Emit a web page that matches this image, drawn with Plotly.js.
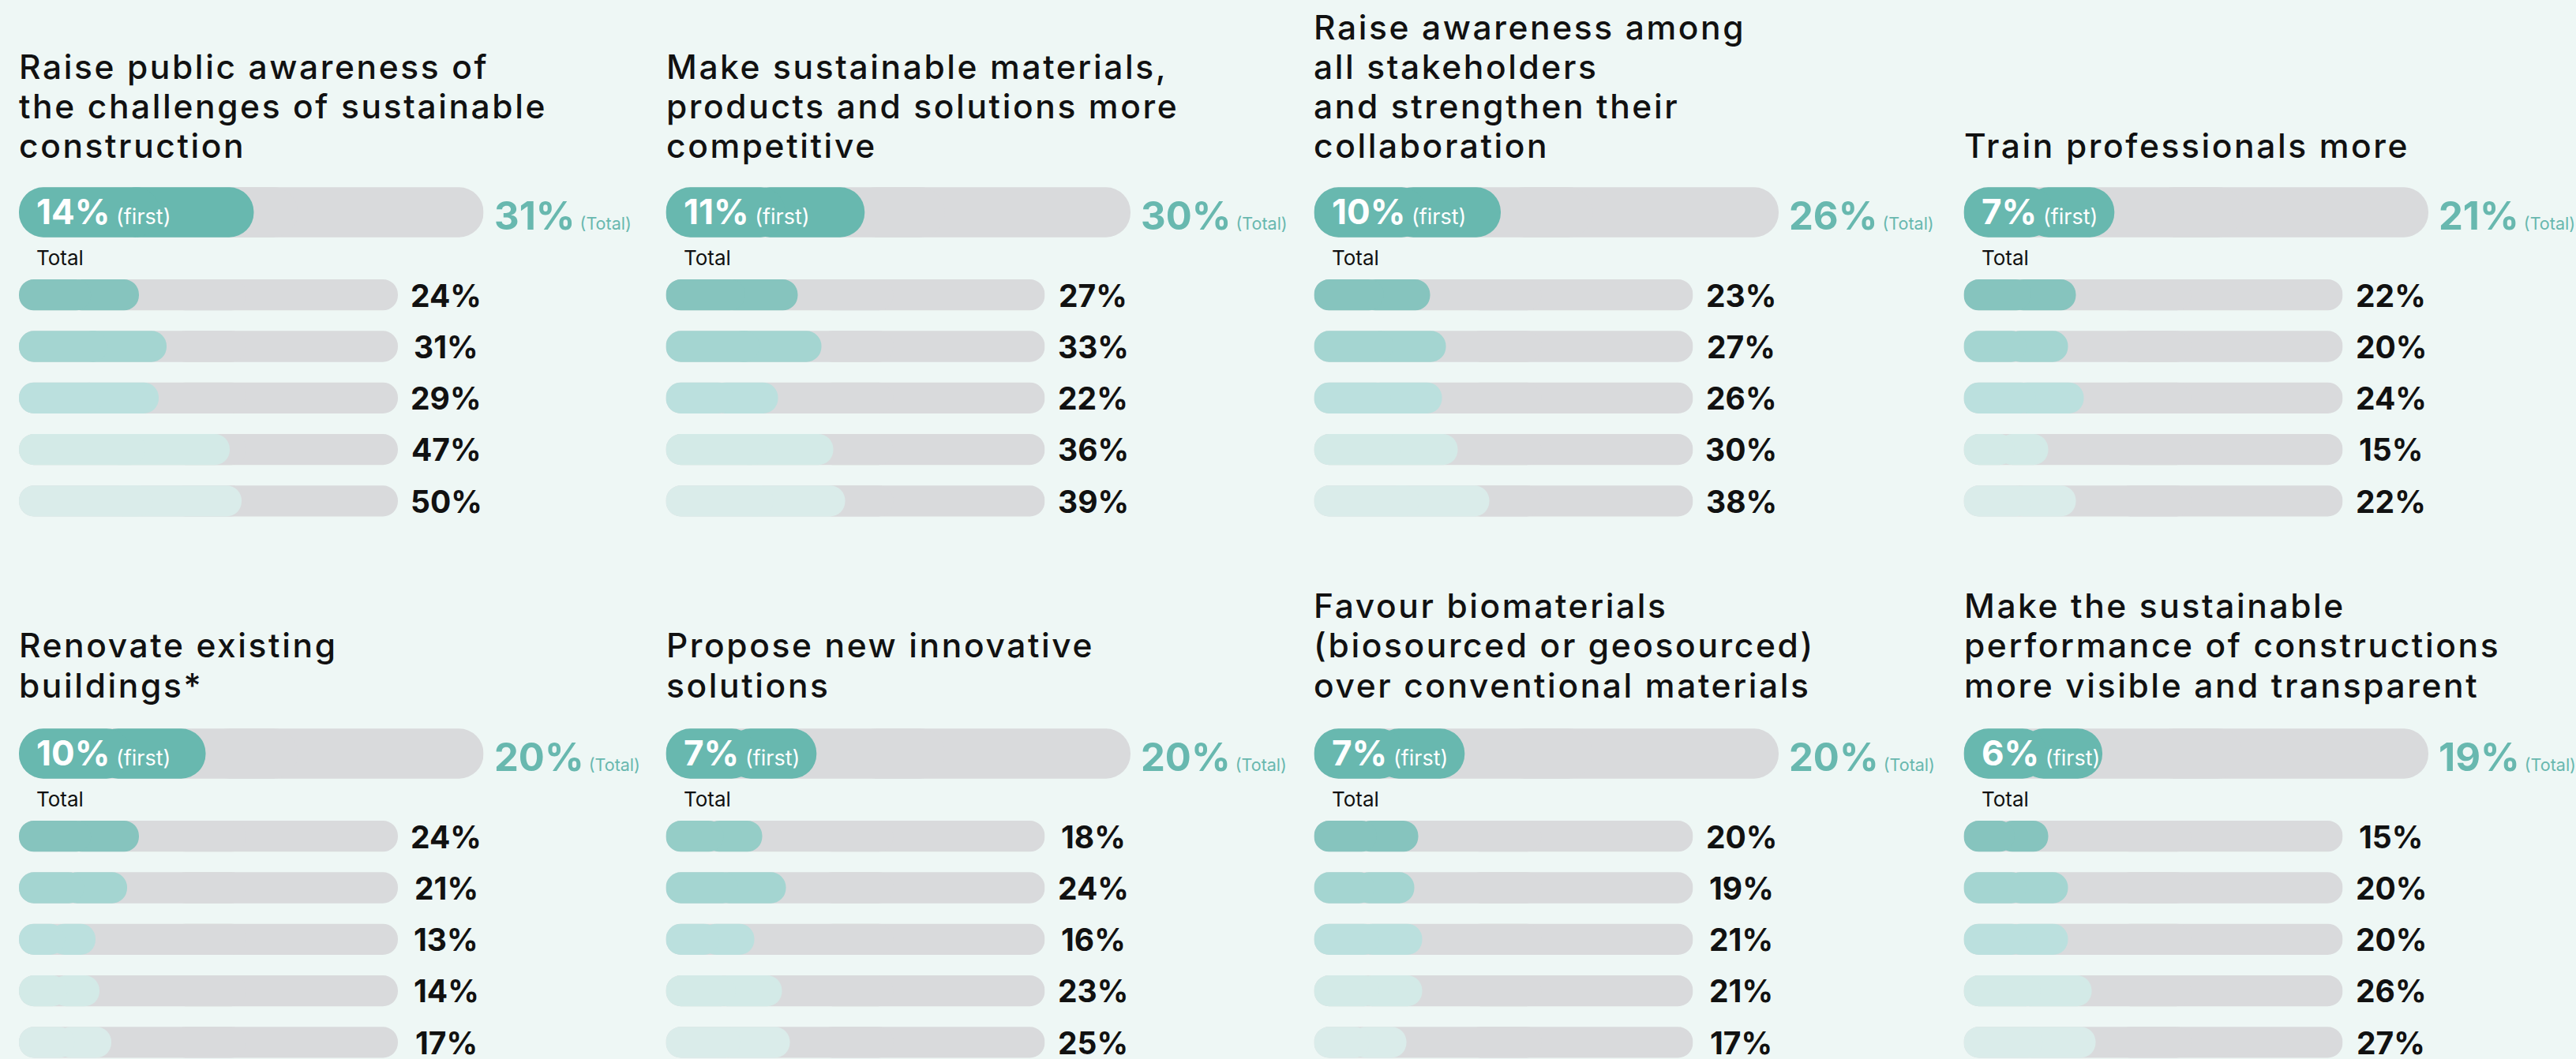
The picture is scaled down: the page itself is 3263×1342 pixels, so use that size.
<!DOCTYPE html>
<html>
<head>
<meta charset="utf-8">
<script src="https://cdn.plot.ly/plotly-3.0.1.min.js"></script>
<style>
html,body{margin:0;padding:0;background:#EEF7F5;}
#chart{width:3263px;height:1342px;}
</style>
</head>
<body>
<div id="chart"></div>
<script>
// ---------------- DATA ----------------
const panelTitles = [
  ["Raise public awareness of", "the challenges of sustainable", "construction"],
  ["Make sustainable materials,", "products and solutions more", "competitive"],
  ["Raise awareness among", "all stakeholders", "and strengthen their", "collaboration"],
  ["Train professionals more"],
  ["Renovate existing", "buildings*"],
  ["Propose new innovative", "solutions"],
  ["Favour biomaterials", "(biosourced or geosourced)", "over conventional materials"],
  ["Make the sustainable", "performance of constructions", "more visible and transparent"]
];
const firstChoice = [14, 11, 10, 7, 10, 7, 7, 6];
const totalChoice = [31, 30, 26, 21, 20, 20, 20, 19];
const groupRows = [0, 1, 2, 3, 4];
const totalsPublicAwareness   = [24, 31, 29, 47, 50];
const totalsCompetitive       = [27, 33, 22, 36, 39];
const totalsStakeholders      = [23, 27, 26, 30, 38];
const totalsTrainPros         = [22, 20, 24, 15, 22];
const totalsRenovate          = [24, 21, 13, 14, 17];
const totalsInnovative        = [18, 24, 16, 23, 25];
const totalsBiomaterials      = [20, 19, 21, 21, 17];
const totalsVisibility        = [15, 20, 20, 26, 27];
const groupTotals = [totalsPublicAwareness, totalsCompetitive, totalsStakeholders, totalsTrainPros,
                     totalsRenovate, totalsInnovative, totalsBiomaterials, totalsVisibility];

// ---------------- STYLE / LAYOUT ----------------
const W = 3263, H = 1342;
const FONT = 'Inter, "Noto Sans", sans-serif';
const BG = '#EEF7F5', GREY = '#D9DADC', TEAL = '#68B8AF', INK = '#111111';
const rowFills = ['#86C4BE', '#A4D5D1', '#BBE0DE', '#D3EAE7', '#DAECEA'];
const firstRowFillOverride = {5: '#95CDC7'};
const colLeft = [24, 843.5, 1664.5, 2487.5];
const rowShift = 686, titleRowShift = 683;
const bigW = 588.5, smallW = 480;
const bigRange = [-5.52, 33.1], smallRange = [-6.4, 89.6];
const bigCenter = 269, bigBand = 100, bigBarW = 0.634;
const smallCenter0 = 373.7, smallStep = 65.3, smallBarW = 0.602, smallEnd = 4.32;
const titleBase = 200.3, titlePitch = 50.3, titleSize = 42.5;
const ASC = 0.36; // middle of text box above baseline (em)

const traces = [];
const layout = {
  width: W, height: H,
  margin: {l: 0, r: 0, t: 0, b: 0},
  paper_bgcolor: BG, plot_bgcolor: 'rgba(0,0,0,0)',
  barmode: 'overlay', showlegend: false,
  font: {family: FONT, color: INK},
  annotations: []
};

const py = px => 1 - px / H;   // pixel (from top) -> paper y
const pxx = px => px / W;

function hiddenAxis(extra) {
  return Object.assign({visible: false, showgrid: false, zeroline: false,
    showticklabels: false, fixedrange: true}, extra);
}

function roundedBars(xa, ya, ys, lefts, ends, width, colors) {
  const m1 = ends.map((e, i) => lefts[i] + 0.4 * (e - lefts[i]));
  const m2 = ends.map((e, i) => lefts[i] + 0.6 * (e - lefts[i]));
  const common = {type: 'bar', orientation: 'h', xaxis: xa, yaxis: ya, y: ys, width: width,
    hoverinfo: 'skip', showlegend: false};
  traces.push(Object.assign({}, common, {base: m1, x: ends.map((e, i) => e - m1[i]),
    marker: {color: colors, cornerradius: '50%', line: {width: 0}}}));
  traces.push(Object.assign({}, common, {base: m2, x: lefts.map((l, i) => l - m2[i]),
    marker: {color: colors, cornerradius: '50%', line: {width: 0}}}));
}

panelTitles.forEach((lines, p) => {
  const r = Math.floor(p / 4), c = p % 4;
  const L = colLeft[c];
  const bi = 2 * p + 1, si = 2 * p + 2;
  const bx = 'x' + (bi === 1 ? '' : bi), by = 'y' + (bi === 1 ? '' : bi);
  const sx = 'x' + si, sy = 'y' + si;
  const bKeyX = 'xaxis' + (bi === 1 ? '' : bi), bKeyY = 'yaxis' + (bi === 1 ? '' : bi);
  const sKeyX = 'xaxis' + si, sKeyY = 'yaxis' + si;

  const bc = bigCenter + rowShift * r;
  layout[bKeyX] = hiddenAxis({domain: [pxx(L), pxx(L + bigW)], range: bigRange, anchor: by});
  layout[bKeyY] = hiddenAxis({domain: [py(bc + bigBand / 2), py(bc - bigBand / 2)], range: [-0.5, 0.5], anchor: bx});
  const s0 = smallCenter0 + rowShift * r;
  layout[sKeyX] = hiddenAxis({domain: [pxx(L), pxx(L + smallW)], range: smallRange, anchor: sy});
  layout[sKeyY] = hiddenAxis({domain: [py(s0 + smallEnd * smallStep), py(s0 - 0.5 * smallStep)],
    range: [smallEnd, -0.5], anchor: sx});

  roundedBars(bx, by, [0], [bigRange[0]], [bigRange[1]], bigBarW, [GREY]);
  roundedBars(bx, by, [0], [bigRange[0]], [firstChoice[p]], bigBarW, [TEAL]);
  const vals = groupTotals[p];
  const fills = rowFills.map((col, k) => (k === 0 && firstRowFillOverride[p]) ? firstRowFillOverride[p] : col);
  roundedBars(sx, sy, groupRows, groupRows.map(() => smallRange[0]), groupRows.map(() => smallRange[1]),
    smallBarW, groupRows.map(() => GREY));
  roundedBars(sx, sy, groupRows, groupRows.map(() => smallRange[0]), vals, smallBarW, fills);

  const n = lines.length;
  lines.forEach((t, j) => {
    const base = titleBase + titleRowShift * r - (n - 1 - j) * titlePitch;
    layout.annotations.push({xref: 'paper', yref: 'paper', x: pxx(L - 2), y: py(base - ASC * titleSize),
      xanchor: 'left', yanchor: 'middle', showarrow: false,
      text: '<span style="letter-spacing:2.6px">' + t + '</span>',
      font: {family: FONT, size: titleSize, color: INK, weight: 500}});
  });

  layout.annotations.push({xref: bx + ' domain', yref: by, x: 0, y: 0, xshift: 20,
    yshift: -(15.3 - ASC * 44), xanchor: 'left', yanchor: 'middle', showarrow: false,
    text: '<b>' + firstChoice[p] + '%</b><span style="font-size:27px;font-weight:400"> (first)</span>',
    font: {family: FONT, size: 44, color: '#FFFFFF'}});
  layout.annotations.push({xref: bx + ' domain', yref: by, x: 1, y: 0, xshift: 11,
    yshift: -(22.8 - ASC * 50), xanchor: 'left', yanchor: 'middle', showarrow: false,
    text: '<b>' + totalChoice[p] + '%</b><span style="font-size:21.5px;font-weight:400"> (Total)</span>',
    font: {family: FONT, size: 49, color: TEAL}});
  layout.annotations.push({xref: sx + ' domain', yref: sy, x: 0, y: 0, xshift: 20,
    yshift: (smallCenter0 - (336 - ASC * 26)), xanchor: 'left', yanchor: 'middle', showarrow: false,
    text: 'Total', font: {family: FONT, size: 26, color: INK}});
  vals.forEach((v, k) => {
    layout.annotations.push({xref: sx + ' domain', yref: sy, x: 1, y: groupRows[k], xshift: 61,
      yshift: -(14.4 - ASC * 39), xanchor: 'center', yanchor: 'middle', showarrow: false,
      text: '<b>' + v + '%</b>', font: {family: FONT, size: 39, color: INK}});
  });
});

Plotly.newPlot('chart', traces, layout, {displayModeBar: false, staticPlot: true});
</script>
</body>
</html>
